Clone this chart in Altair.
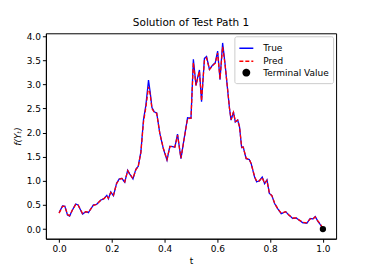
import altair as alt
import pandas as pd

t = [0.0, 0.013, 0.022, 0.032, 0.04, 0.05, 0.063, 0.072, 0.089, 0.101, 0.111, 0.130, 0.142, 0.158, 0.17,
     0.181, 0.187, 0.196, 0.206, 0.218, 0.228, 0.238, 0.249, 0.26, 0.268, 0.28, 0.291, 0.30, 0.31, 0.32,
     0.329, 0.339, 0.345, 0.352, 0.361, 0.37, 0.382, 0.395, 0.409, 0.42, 0.43, 0.439, 0.449, 0.462, 0.475,
     0.487, 0.50, 0.509, 0.519, 0.526, 0.532, 0.54, 0.551, 0.559, 0.57, 0.582, 0.592, 0.601, 0.61, 0.62,
     0.629, 0.639, 0.646, 0.652, 0.661, 0.668, 0.677, 0.684, 0.692, 0.698, 0.709, 0.721, 0.728, 0.741, 0.749,
     0.759, 0.77, 0.779, 0.788, 0.797, 0.807, 0.817, 0.829, 0.842, 0.859, 0.871, 0.886, 0.899, 0.909, 0.924,
     0.939, 0.952, 0.962, 0.971, 0.981, 0.988, 1.0]

true_vals = [0.34, 0.48, 0.47, 0.29, 0.27, 0.39, 0.52, 0.50, 0.31, 0.36, 0.34, 0.50, 0.51, 0.60, 0.63,
             0.70, 0.63, 0.77, 0.69, 0.95, 1.04, 1.05, 0.97, 1.22, 1.14, 1.04, 1.24, 1.30, 1.60, 2.27,
             2.57, 3.09, 2.85, 2.52, 2.43, 2.41, 1.98, 1.67, 1.43, 1.72, 1.71, 1.70, 1.97, 1.46, 1.91,
             2.31, 2.30, 3.52, 2.98, 3.16, 3.30, 2.64, 3.54, 3.58, 3.31, 3.40, 3.45, 3.69, 3.10, 3.86,
             3.43, 2.88, 2.50, 2.26, 2.43, 2.22, 2.26, 2.12, 1.69, 1.70, 1.46, 1.44, 1.36, 1.08, 0.98,
             1.00, 1.08, 0.94, 1.02, 0.74, 0.69, 0.53, 0.42, 0.32, 0.36, 0.29, 0.22, 0.23, 0.19, 0.13,
             0.12, 0.22, 0.21, 0.26, 0.16, 0.11, 0.01]

pred_vals = [0.33, 0.47, 0.47, 0.30, 0.28, 0.39, 0.51, 0.50, 0.32, 0.36, 0.35, 0.49, 0.51, 0.60, 0.63,
             0.69, 0.64, 0.76, 0.70, 0.94, 1.03, 1.05, 0.98, 1.21, 1.14, 1.05, 1.23, 1.30, 1.58, 2.22,
             2.52, 2.95, 2.80, 2.50, 2.42, 2.40, 1.98, 1.68, 1.44, 1.71, 1.71, 1.70, 1.95, 1.47, 1.90,
             2.29, 2.30, 3.45, 2.98, 3.14, 3.27, 2.66, 3.50, 3.55, 3.31, 3.39, 3.44, 3.65, 3.12, 3.78,
             3.42, 2.89, 2.50, 2.27, 2.42, 2.23, 2.26, 2.12, 1.70, 1.70, 1.47, 1.44, 1.36, 1.09, 0.99,
             1.00, 1.07, 0.95, 1.01, 0.75, 0.69, 0.54, 0.42, 0.33, 0.36, 0.29, 0.23, 0.23, 0.19, 0.14,
             0.13, 0.21, 0.21, 0.25, 0.17, 0.12, 0.02]

terminal_t = [1.0]
terminal_val = [0.0]

series_names = ["True", "Pred", "Terminal Value"]
series_colors = ["#0000ff", "#ff0000", "#000000"]

lines_df = pd.concat([
    pd.DataFrame({"t": t, "value": true_vals, "series": "True", "order": 0}),
    pd.DataFrame({"t": t, "value": pred_vals, "series": "Pred", "order": 1}),
])
term_df = pd.DataFrame({"t": terminal_t, "value": terminal_val, "series": "Terminal Value"})

x_enc = alt.X("t:Q", title="t",
              scale=alt.Scale(domain=[-0.05, 1.05], nice=False, zero=False),
              axis=alt.Axis(values=[0.0, 0.2, 0.4, 0.6, 0.8, 1.0], format=".1f"))
y_enc = alt.Y("value:Q", title="f(Yₜ)",
              scale=alt.Scale(domain=[-0.2, 4.06], nice=False, zero=False),
              axis=alt.Axis(values=[0.0, 0.5, 1.0, 1.5, 2.0, 2.5, 3.0, 3.5, 4.0], format=".1f",
                            titleFontStyle="italic"))

color_enc = alt.Color("series:N", title=None,
                      scale=alt.Scale(domain=series_names, range=series_colors),
                      legend=alt.Legend(orient="top-right"))
dash_enc = alt.StrokeDash("series:N", title=None,
                          scale=alt.Scale(domain=series_names, range=[[1, 0], [4, 2], [1, 0]]))

lines = alt.Chart(lines_df).mark_line(strokeWidth=1.3).encode(
    x=x_enc, y=y_enc, color=color_enc, strokeDash=dash_enc,
    detail="series:N", order="order:Q"
)

points = alt.Chart(term_df).mark_point(filled=True, opacity=1).encode(
    x=x_enc, y=y_enc, color=color_enc,
    shape=alt.Shape("series:N", title=None,
                    scale=alt.Scale(domain=series_names, range=["stroke", "stroke", "circle"])),
    size=alt.Size("series:N", title=None,
                  scale=alt.Scale(type="ordinal", domain=series_names, range=[196, 196, 40])),
)

chart = alt.layer(lines, points).properties(
    width=291, height=206,
    title=alt.Title("Solution of Test Path 1", fontSize=10.5, fontWeight="normal", color="#000",
                    font="DejaVu Sans", offset=4),
    autosize=alt.AutoSizeParams(type="none"),
    padding={"left": 38, "top": 25, "right": 30, "bottom": 26},
).configure_view(
    stroke="#000", strokeWidth=1
).configure_axis(
    grid=False, domainColor="#000", tickColor="#000", tickSize=3.5,
    labelFont="DejaVu Sans", labelFontSize=9, labelColor="#000",
    titleFont="DejaVu Sans", titleFontSize=9, titleFontWeight="normal", titleColor="#000",
    labelPadding=2
).configure_axisY(
    titlePadding=4
).configure_axisX(
    titlePadding=3
).configure_legend(
    labelFont="DejaVu Sans", labelFontSize=9, labelColor="#000",
    strokeColor="#cccccc", fillColor="#ffffff", padding=4, cornerRadius=2,
    offset=3, rowPadding=0, symbolStrokeWidth=1.5, labelOffset=9
)

chart.save("out.html", embed_options={"renderer": "svg", "actions": False})
